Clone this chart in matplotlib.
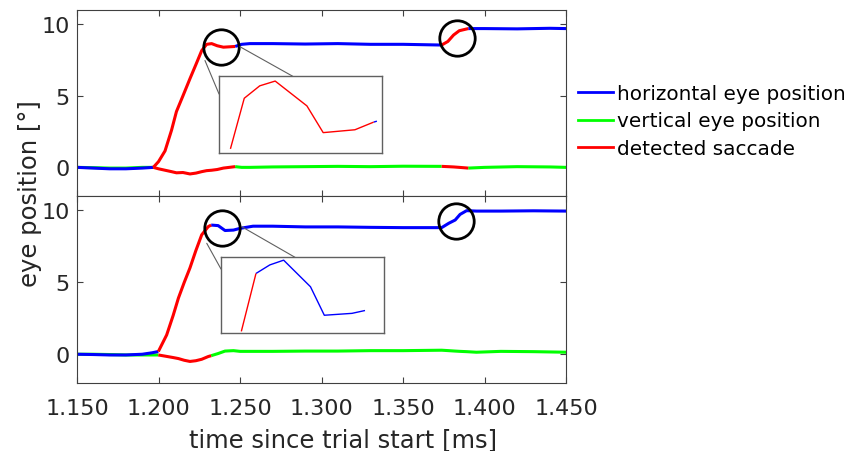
import numpy as np
import matplotlib.pyplot as plt
from matplotlib.patches import ConnectionPatch

plt.rcParams['font.family'] = ['DejaVu Sans']

# --- data (time in s, eye position in deg) ---
t_top = [1.150, 1.160, 1.170, 1.180, 1.190, 1.1968, 1.200, 1.204, 1.208, 1.211,
         1.215, 1.2193, 1.223, 1.2265, 1.2295, 1.2326, 1.236, 1.2398, 1.247, 1.251,
         1.256, 1.270, 1.290, 1.310, 1.330, 1.350, 1.3737, 1.3775, 1.381, 1.3845,
         1.390, 1.400, 1.420, 1.440, 1.450]
horiz_top = [0.0, -0.05, -0.1, -0.1, -0.05, 0.0, 0.4, 1.15, 2.6, 3.9,
             5.0, 6.2, 7.2, 8.16, 8.6, 8.65, 8.5, 8.4, 8.45, 8.6,
             8.65, 8.65, 8.62, 8.65, 8.6, 8.6, 8.55, 8.8, 9.25, 9.55,
             9.7, 9.7, 9.68, 9.72, 9.7]
vert_top = [0.0, -0.02, -0.05, -0.05, 0.0, 0.0, -0.1, -0.2, -0.3, -0.38,
            -0.36, -0.46, -0.4, -0.3, -0.23, -0.2, -0.15, -0.05, 0.05, 0.0,
            0.0, 0.03, 0.05, 0.07, 0.05, 0.08, 0.07, 0.05, 0.03, 0.0,
            -0.05, 0.0, 0.05, 0.03, 0.0]
sacc_top = [(1.1968, 1.247), (1.3737, 1.390)]

t_bot = [1.150, 1.160, 1.170, 1.180, 1.190, 1.196, 1.1999, 1.205, 1.209, 1.2122,
         1.2158, 1.2193, 1.2229, 1.2265, 1.2305, 1.2323, 1.2366, 1.2408, 1.246, 1.250,
         1.258, 1.270, 1.290, 1.310, 1.330, 1.350, 1.3737, 1.378, 1.382, 1.385,
         1.389, 1.395, 1.410, 1.430, 1.450]
horiz_bot = [0.0, -0.02, -0.05, -0.05, 0.0, 0.1, 0.19, 1.34, 2.7, 3.9,
             5.0, 6.0, 7.2, 8.3, 8.87, 8.98, 8.94, 8.6, 8.63, 8.75,
             8.9, 8.9, 8.85, 8.85, 8.82, 8.8, 8.8, 9.1, 9.33, 9.72,
             9.98, 9.95, 9.95, 9.97, 9.95]
vert_bot = [0.0, 0.0, -0.02, -0.05, -0.05, -0.05, -0.05, -0.15, -0.23, -0.3,
            -0.42, -0.5, -0.45, -0.35, -0.16, -0.1, 0.05, 0.22, 0.25, 0.2,
            0.2, 0.2, 0.22, 0.22, 0.25, 0.25, 0.28, 0.25, 0.22, 0.2,
            0.18, 0.14, 0.2, 0.18, 0.14]
sacc_bot = [(1.1999, 1.2323)]

# zoomed samples shown in the insets
t_inset_top = [1.2294, 1.2311, 1.2330, 1.2349, 1.2388, 1.2408, 1.2447, 1.2470, 1.2474]
y_inset_top = [8.04, 8.57, 8.70, 8.75, 8.49, 8.21, 8.24, 8.32, 8.33]
t_inset_bot = [1.2305, 1.2323, 1.2340, 1.2357, 1.2390, 1.2407, 1.2441, 1.2457]
y_inset_bot = [8.32, 8.93, 9.02, 9.07, 8.79, 8.49, 8.51, 8.54]

xticks = [1.150, 1.200, 1.250, 1.300, 1.350, 1.400, 1.450]
xtick_labels = ['1.150', '1.200', '1.250', '1.300', '1.350', '1.400', '1.450']
yticks = [0, 5, 10]

# circles around the saccades (centre t, y)
circ_top = [(1.2383, 8.39), (1.3830, 9.03)]
circ_bot = [(1.2387, 8.75), (1.3822, 9.28)]

BLUE, GREEN, RED = '#0000ff', '#00ff00', '#ff0000'
AXC = '#404040'


def trace(ax, t, y, color, intervals, lw):
    # draw segment by segment, red where both ends lie inside a saccade
    t = np.asarray(t)
    y = np.asarray(y)
    inside = np.zeros(len(t), bool)
    for a, b in intervals:
        inside |= (t >= a - 1e-9) & (t <= b + 1e-9)
    seg_red = inside[:-1] & inside[1:]
    start = 0
    for i in range(1, len(seg_red) + 1):
        if i == len(seg_red) or seg_red[i] != seg_red[start]:
            c = RED if seg_red[start] else color
            ax.plot(t[start:i + 1], y[start:i + 1], color=c, lw=lw,
                    solid_capstyle='butt', zorder=3 if seg_red[start] else 2)
            start = i


def style(ax):
    for s in ax.spines.values():
        s.set_color(AXC)
        s.set_linewidth(0.8)
    ax.tick_params(direction='in', top=True, right=True, length=4,
                   color=AXC, labelsize=16, labelcolor='#262626', pad=5)
    ax.tick_params(axis='x', pad=11)
    ax.set_xlim(1.15, 1.45)
    ax.set_ylim(-2, 11)
    ax.set_xticks(xticks)
    ax.set_yticks(yticks)


fig = plt.figure(figsize=(8.48, 4.52), dpi=100)
ax1 = fig.add_axes([0.0908, 0.5642, 0.5767, 0.4115])
ax2 = fig.add_axes([0.0908, 0.1504, 0.5767, 0.4138])

for ax, t, h, v, sc, circ in [(ax1, t_top, horiz_top, vert_top, sacc_top, circ_top),
                               (ax2, t_bot, horiz_bot, vert_bot, sacc_bot, circ_bot)]:
    style(ax)
    trace(ax, t, v, GREEN, sc, 2.2)
    trace(ax, t, h, BLUE, sc, 2.2)
    for cx, cy in circ:
        ax.plot(cx, cy, 'o', ms=25.5, mfc='none', mec='black', mew=2.0, zorder=4)

ax1.set_xticklabels([])
ax2.set_xticklabels(xtick_labels)

# insets
ins1 = fig.add_axes([0.2583, 0.6600, 0.1919, 0.1690])
ins2 = fig.add_axes([0.2606, 0.2604, 0.1919, 0.1681])
trace(ins1, t_inset_top, y_inset_top, BLUE, [(1.2294, 1.2470)], 1.0)
trace(ins2, t_inset_bot, y_inset_bot, BLUE, [(1.2305, 1.2323)], 1.0)
ins1.set_xlim(1.228, 1.248)
ins1.set_ylim(8.0, 8.8)
ins2.set_xlim(1.228, 1.248)
ins2.set_ylim(8.3, 9.1)
for ins in (ins1, ins2):
    ins.set_xticks([])
    ins.set_yticks([])
    for s in ins.spines.values():
        s.set_color('#606060')
        s.set_linewidth(1.0)

# connector lines from circles to insets
for ax, ins, pairs in [(ax1, ins1, [((1.2285, 7.47), (0, 0.768)), ((1.2500, 8.43), (0.453, 1))]),
                       (ax2, ins2, [((1.2296, 7.71), (0, 0.846)), ((1.2510, 8.87), (0.455, 1))])]:
    for p_data, p_ins in pairs:
        con = ConnectionPatch(xyA=p_data, coordsA=ax.transData,
                              xyB=p_ins, coordsB=ins.transAxes,
                              color='#606060', lw=0.8)
        fig.add_artist(con)

fig.text(0.035, 1 - 194 / 452, 'eye position [°]', rotation=90, fontsize=17.5,
         ha='center', va='center', color='#262626')
fig.text(343 / 848, 1 - 440 / 452, 'time since trial start [ms]',
         fontsize=17.5, ha='center', va='center', color='#262626')

handles = [plt.Line2D([], [], color=BLUE, lw=2),
           plt.Line2D([], [], color=GREEN, lw=2),
           plt.Line2D([], [], color=RED, lw=2)]
labels = ['horizontal eye position', 'vertical eye position', 'detected saccade']
fig.legend(handles, labels, loc='center left', bbox_to_anchor=(578 / 848, 1 - 122 / 452),
           frameon=False, fontsize=14.4, handlelength=1.75, handletextpad=0.2,
           labelspacing=0.42, borderpad=0, borderaxespad=0)

fig.savefig('out.png', dpi=100)
